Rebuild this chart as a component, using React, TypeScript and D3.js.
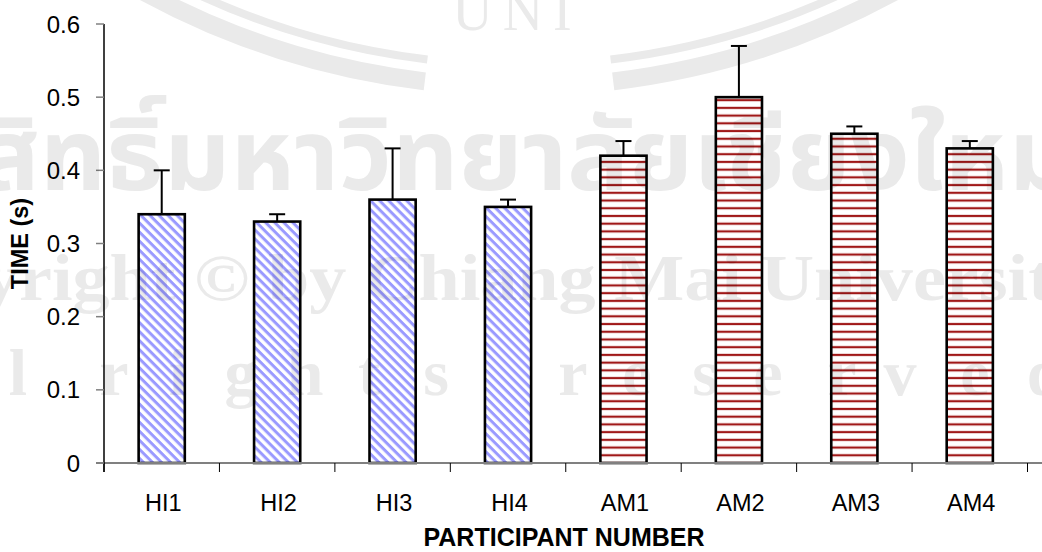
import React from "react";
import * as d3 from "d3";

const categories = ["HI1", "HI2", "HI3", "HI4", "AM1", "AM2", "AM3", "AM4"];
const groups = ["HI", "HI", "HI", "HI", "AM", "AM", "AM", "AM"];
const means = [0.34, 0.33, 0.36, 0.35, 0.42, 0.5, 0.45, 0.43];
const errors = [0.06, 0.01, 0.07, 0.01, 0.02, 0.07, 0.01, 0.01];
const yTicks = [0, 0.1, 0.2, 0.3, 0.4, 0.5, 0.6];
const yTickLabels = ["0", "0.1", "0.2", "0.3", "0.4", "0.5", "0.6"];
const xTitle = "PARTICIPANT NUMBER";
const yTitle = "TIME (s)";
const wmThai = "ลิขสิทธิ์มหาวิทยาลัยเชียงใหม่";
const wmCopy = "Copyright © by Chiang Mai University";
const wmSeal = "UNI";
const wmRights = "All rights reserved";

const W = 1042;
const H = 552;
const left = 104;
const right = 1027.5;
const top = 24;
const bottom = 463;

export default function App() {
  const x = d3
    .scaleBand<string>()
    .domain(categories)
    .range([left, right])
    .paddingInner(0.6)
    .paddingOuter(0.3);
  const y = d3.scaleLinear().domain([0, 0.6]).range([bottom, top]);
  const step = x.step();
  const boundaries = d3.range(categories.length + 1).map((i) => left + i * step);
  const font = "'Liberation Sans', Arial, sans-serif";
  const wmFill = "#eaeaea";

  // watermark letters of the spaced "All rights reserved" line (the first letters are off-page)
  const rightsLetters = [
    { c: "l", x: 18 },
    { c: "r", x: 114 },
    { c: "i", x: 178 },
    { c: "g", x: 241 },
    { c: "h", x: 305 },
    { c: "t", x: 369 },
    { c: "s", x: 436 },
    { c: "r", x: 573 },
    { c: "e", x: 637 },
    { c: "s", x: 705 },
    { c: "e", x: 768 },
    { c: "r", x: 842 },
    { c: "v", x: 900 },
    { c: "e", x: 975 },
    { c: "d", x: 1045 },
  ];

  const arc = d3.arc();
  const sealArcs = [
    { r0: 778, r1: 796, a0: 0.12, a1: 0.56 },
    { r0: 778, r1: 796, a0: -0.56, a1: -0.12 },
    { r0: 761, r1: 769, a0: 0.12, a1: 0.56 },
    { r0: 761, r1: 769, a0: -0.56, a1: -0.12 },
  ];

  return (
    <svg
      width={W}
      height={H}
      viewBox={`0 0 ${W} ${H}`}
      style={{ position: "absolute", left: 0, top: 0, background: "#fff" }}
    >
      <defs>
        <pattern
          id="diag"
          patternUnits="userSpaceOnUse"
          width={6.4}
          height={6.4}
          patternTransform="rotate(45)"
        >
          <rect width={6.4} height={6.4} fill="#ffffff" />
          <rect width={6.4} height={3} fill="#9a9aff" />
        </pattern>
        <pattern id="horiz" patternUnits="userSpaceOnUse" width={10} height={7.72} y={bottom}>
          <rect width={10} height={7.72} fill="#ffffff" />
          <rect y={-1.1} width={10} height={2.2} fill="#a01818" />
          <rect y={6.62} width={10} height={2.2} fill="#a01818" />
        </pattern>
      </defs>

      <rect width={W} height={H} fill="#fff" />

      {/* bars */}
      {categories.map((c, i) => (
        <rect
          key={c}
          x={x(c)}
          y={y(means[i])}
          width={x.bandwidth()}
          height={y(0) - y(means[i])}
          fill={groups[i] === "HI" ? "url(#diag)" : "url(#horiz)"}
          stroke="#000"
          strokeWidth={2.6}
        />
      ))}

      {/* error bars */}
      {categories.map((c, i) => {
        const cx = (x(c) as number) + x.bandwidth() / 2;
        return (
          <g key={"e" + c} stroke="#000" strokeWidth={2}>
            <line x1={cx} x2={cx} y1={y(means[i])} y2={y(means[i] + errors[i])} />
            <line x1={cx - 8} x2={cx + 8} y1={y(means[i] + errors[i])} y2={y(means[i] + errors[i])} />
          </g>
        );
      })}

      {/* x axis */}
      <line x1={96} x2={W} y1={bottom} y2={bottom} stroke="#808080" strokeWidth={2} />
      {boundaries.map((b, i) => (
        <line key={"xt" + i} x1={b} x2={b} y1={bottom} y2={bottom + 9} stroke="#000" strokeWidth={1} />
      ))}
      {categories.map((c) => (
        <text
          key={"xl" + c}
          x={(x(c) as number) + x.bandwidth() / 2 + 1.5}
          y={510.5}
          textAnchor="middle"
          fontFamily={font}
          fontSize={23.5}
          fill="#000"
        >
          {c}
        </text>
      ))}

      {/* y axis */}
      <line x1={left} x2={left} y1={top} y2={bottom + 9} stroke="#000" strokeWidth={1.5} />
      {yTicks.map((t, i) => (
        <g key={"yt" + i}>
          <line x1={96} x2={left} y1={y(t)} y2={y(t)} stroke="#808080" strokeWidth={1.5} />
          <text
            x={80}
            y={y(t)}
            dy="0.36em"
            textAnchor="end"
            fontFamily={font}
            fontSize={24}
            fill="#000"
          >
            {yTickLabels[i]}
          </text>
        </g>
      ))}

      {/* titles */}
      <text
        x={564}
        y={546}
        textAnchor="middle"
        fontFamily={font}
        fontSize={25}
        fontWeight="bold"
        fill="#000"
      >
        {xTitle}
      </text>
      <text
        transform={`translate(28, ${(top + bottom) / 2}) rotate(-90)`}
        textAnchor="middle"
        fontFamily={font}
        fontSize={23.5}
        fontWeight="bold"
        fill="#000"
      >
        {yTitle}
      </text>

      {/* watermark overlay */}
      <g style={{ mixBlendMode: "multiply" }} fill={wmFill} pointerEvents="none">
        {sealArcs.map((s, i) => (
          <path
            key={"arc" + i}
            d={arc({ innerRadius: s.r0, outerRadius: s.r1, startAngle: s.a0, endAngle: s.a1 } as any) as string}
            transform="translate(519, -700) rotate(180)"
          />
        ))}
        <text
          x={517}
          y={30}
          textAnchor="middle"
          fontFamily="'Liberation Serif', 'DejaVu Serif', serif"
          fontSize={56}
          letterSpacing={10}
        >
          {wmSeal}
        </text>
        <text
          x={-145}
          y={190}
          fontFamily="'Noto Sans Thai', 'Noto Sans', 'DejaVu Sans', sans-serif"
          fontSize={100}
          fontWeight="bold"
          textLength={1220}
          lengthAdjust="spacingAndGlyphs"
        >
          {wmThai}
        </text>
        <text
          x={-150}
          y={300}
          fontFamily="'Liberation Serif', 'DejaVu Serif', serif"
          fontSize={66}
          fontWeight="bold"
          textLength={1240}
          lengthAdjust="spacingAndGlyphs"
        >
          {wmCopy}
        </text>
        <g fontFamily="'Liberation Serif', 'DejaVu Serif', serif" fontSize={66} fontWeight="bold" textAnchor="middle">
          {rightsLetters.map((l, i) => (
            <text key={"wr" + i} x={l.x} y={395}>
              {l.c}
            </text>
          ))}
        </g>
      </g>
      <desc>{wmRights}</desc>
    </svg>
  );
}
